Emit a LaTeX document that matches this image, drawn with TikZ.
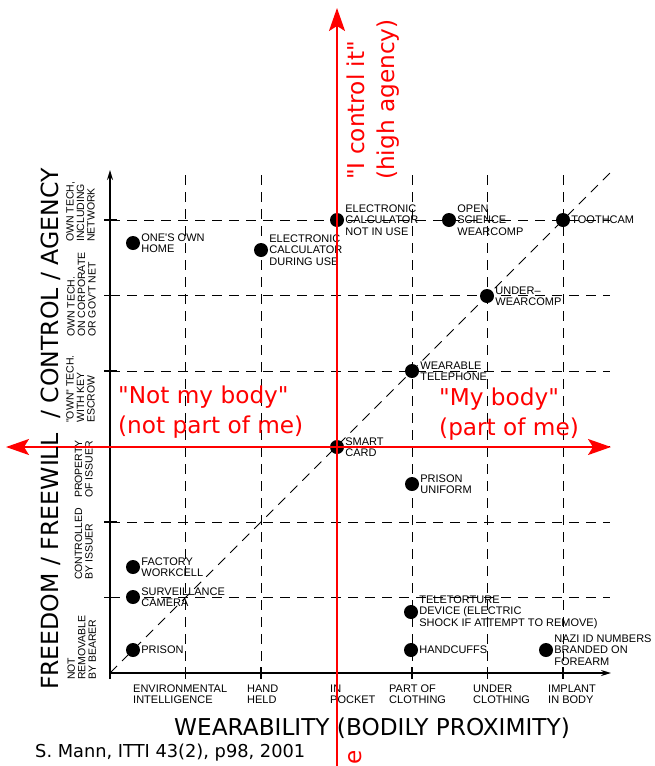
\documentclass[tikz,border=0pt]{standalone}
\usepackage{fontspec}
\setmainfont{DejaVu Sans}[Ligatures=TeXOff]
\newfontfamily\capsfont{Liberation Sans}[Ligatures=TeXOff]
\usetikzlibrary{arrows.meta,positioning}
\definecolor{AXred}{RGB}{255,0,0}
\tikzset{
  pt/.style={circle,fill=black,inner sep=0pt,minimum size=14pt},
  lbl/.style={font=\capsfont\fontsize{11}{11.3}\selectfont,align=left,inner sep=0pt},
  xlbl/.style={font=\capsfont\fontsize{11}{11}\selectfont,align=left,inner sep=0pt,anchor=north west},
  ylbl/.style={font=\capsfont\fontsize{10.5}{10.5}\selectfont,align=left,inner sep=0pt,
               rotate=90,anchor=south west},
  gridline/.style={dash pattern=on 10pt off 7pt,line width=0.9pt},
  axisline/.style={-{Stealth[length=10pt,width=6pt]},line width=1.5pt},
  redaxis/.style={draw=AXred,line width=2pt},
  redtxt/.style={text=AXred,font=\fontsize{23.2}{30}\selectfont,align=left,inner sep=0pt},
  title/.style={font=\fontsize{23.2}{27}\selectfont,inner sep=0pt}
}
\begin{document}
\begin{tikzpicture}[x=1pt,y=-1pt]
  \useasboundingbox (0,0) rectangle (655,766);
  \coordinate (O) at (110,673);
  \coordinate (xend) at (611,673);
  \coordinate (yend) at (110,170);
  \coordinate (dend) at (610,173);
  \coordinate (rl) at (6,447);
  \coordinate (rr) at (611,447);
  \coordinate (rb) at (337,766);
  \coordinate (rt) at (337,8);

  % grid
  \foreach \i in {1,...,6} {
    \draw[gridline] ({110+75.5*\i},175) -- ({110+75.5*\i},673);
    \draw[gridline] (110,{673-75.5*\i}) -- (610,{673-75.5*\i});
    \draw[line width=1.2pt] ({110+75.5*\i},667) -- ({110+75.5*\i},679);
    \draw[line width=1.2pt] (104,{673-75.5*\i}) -- (117,{673-75.5*\i});
  }
  \draw[gridline] (O) -- (dend);

  % axes
  \draw[axisline] (O) -- (xend);
  \draw[axisline] (110,679) -- (yend);

  % points
  \node[pt] (home) at (133,243) {};
  \node[lbl,right=1pt of home] (hometxt) {ONE'S OWN\\HOME};
  \node[pt] (calcuse) at (261,250) {};
  \node[lbl,right=1pt of calcuse] (calcusetxt) {ELECTRONIC\\CALCULATOR\\DURING USE};
  \node[pt] (calcoff) at (337,220) {};
  \node[lbl,right=1pt of calcoff] (calcofftxt) {ELECTRONIC\\CALCULATOR\\NOT IN USE};
  \node[pt] (opensci) at (449,220) {};
  \node[lbl,right=1pt of opensci] (openscitxt) {OPEN\\SCIENCE\\WEARCOMP};
  \node[pt] (tooth) at (563,220) {};
  \node[lbl,right=1pt of tooth] (toothtxt) {TOOTHCAM};
  \node[pt] (underw) at (487,296) {};
  \node[lbl,right=1pt of underw] (underwtxt) {UNDER–\\WEARCOMP};
  \node[pt] (phone) at (412,371) {};
  \node[lbl,right=1pt of phone] (phonetxt) {WEARABLE\\TELEPHONE};
  \node[pt] (smart) at (337,447) {};
  \node[lbl,right=1pt of smart] (smarttxt) {SMART\\CARD};
  \node[pt] (uniform) at (412,484) {};
  \node[lbl,right=1pt of uniform] (uniformtxt) {PRISON\\UNIFORM};
  \node[pt] (factory) at (133,567) {};
  \node[lbl,right=1pt of factory] (factorytxt) {FACTORY\\WORKCELL};
  \node[pt] (camera) at (133,597) {};
  \node[lbl,right=1pt of camera] (cameratxt) {SURVEILLANCE\\CAMERA};
  \node[pt] (prison) at (133,650) {};
  \node[lbl,right=1pt of prison] (prisontxt) {PRISON};
  \node[pt] (torture) at (411,612) {};
  \node[lbl,right=1pt of torture] (torturetxt) {TELETORTURE\\DEVICE (ELECTRIC\\SHOCK IF ATTEMPT TO REMOVE)};
  \node[pt] (cuffs) at (411,650) {};
  \node[lbl,right=1pt of cuffs] (cuffstxt) {HANDCUFFS};
  \node[pt] (nazi) at (546,650) {};
  \node[lbl,right=1pt of nazi] (nazitxt) {NAZI ID NUMBERS\\BRANDED ON\\FOREARM};

  % x tick labels
  \node[xlbl] (envir) at (133,685) {ENVIRONMENTAL\\INTELLIGENCE};
  \node[xlbl] (hand) at (247,685) {HAND\\HELD};
  \node[xlbl] (pocket) at (330,685) {IN\\POCKET};
  \node[xlbl] (cloth) at (389,685) {PART OF\\CLOTHING};
  \node[xlbl] (under) at (473,685) {UNDER\\CLOTHING};
  \node[xlbl] (implant) at (548,685) {IMPLANT\\IN BODY};

  % y band labels
  \node[ylbl] (notrem) at (96,680) {NOT\\REMOVABLE\\BY BEARER};
  \node[ylbl] (ctrl) at (93,580) {CONTROLLED\\BY ISSUER};
  \node[ylbl] (prop) at (93,498) {PROPERTY\\OF ISSUER};
  \node[ylbl] (escrow) at (95,423) {"OWN" TECH.\\WITH KEY\\ESCROW};
  \node[ylbl] (corp) at (96,337) {OWN TECH.\\ON CORPORATE\\OR GOV'T NET};
  \node[ylbl] (ownnet) at (95,242) {OWN TECH,\\INCLUDING\\NETWORK};

  % red axes
  \draw[redaxis,{Stealth[length=23pt,width=16pt,inset=5pt]}-{Stealth[length=23pt,width=16pt,inset=5pt]}] (rl) -- (rr);
  \draw[redaxis,-{Stealth[length=23pt,width=16pt,inset=5pt]}] (rb) -- (rt);
  \node[redtxt,anchor=north west] (notmine) at (118,386) {"Not my body"\\(not part of me)};
  \node[redtxt,anchor=north west] (mine) at (439,388) {"My body"\\(part of me)};
  \node[redtxt,rotate=90,anchor=north west] (agency) at (347,180) {"I control it"\\(high agency)};
  \node[redtxt,rotate=90] (cut) at (355,757) {e};

  % titles
  \node[title,anchor=base] (xtitle) at (372,735) {WEARABILITY (BODILY PROXIMITY)};
  \node[title,font=\fontsize{23.6}{27}\selectfont,rotate=90,anchor=base] (ytitle) at (58,429) {FREEDOM / FREEWILL \ / CONTROL / AGENCY};
  \node[font=\fontsize{17.8}{20}\selectfont,inner sep=0pt,anchor=base west] (credit) at (35,757) {S. Mann, ITTI 43(2), p98, 2001};
\end{tikzpicture}
\end{document}
